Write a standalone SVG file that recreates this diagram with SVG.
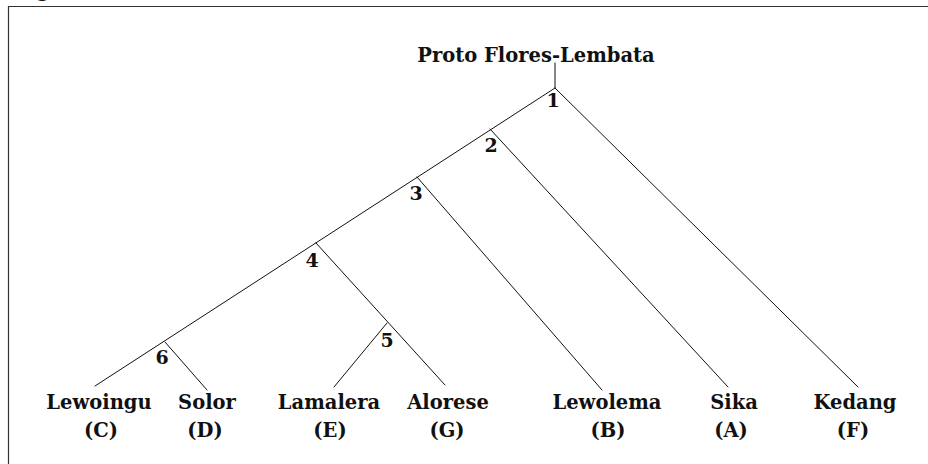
<svg xmlns="http://www.w3.org/2000/svg" width="928" height="464" viewBox="0 0 928 464">
  <style>
    .frame { fill: none; stroke: #333; stroke-width: 1.2; }
    .edge { fill: none; stroke: #111; stroke-width: 1; stroke-linecap: round; }
    .name { font-family: "DejaVu Serif", "Liberation Serif", serif; font-weight: bold; font-size: 19.5px; fill: #111; text-anchor: middle; }
    .num { font-family: "DejaVu Serif", "Liberation Serif", serif; font-weight: bold; font-size: 19px; fill: #111; text-anchor: middle; }
  </style>
  <rect width="928" height="464" fill="#fff"/>
  <!-- caption glyph running off the top edge -->
  <text x="43" y="-3" class="name" font-weight="normal">g</text>
  <!-- panel border -->
  <path class="frame" d="M8.5,464 V6.5 H928"/>

  <g id="connectors">
    <line class="edge" x1="555" y1="63" x2="555" y2="88"/>
    <line class="edge" x1="555" y1="88" x2="95" y2="386"/>
    <line class="edge" x1="555" y1="88" x2="858" y2="387"/>
    <line class="edge" x1="490" y1="129" x2="728" y2="387"/>
    <line class="edge" x1="417" y1="177" x2="602" y2="390"/>
    <line class="edge" x1="316" y1="243" x2="445" y2="385"/>
    <line class="edge" x1="387" y1="323" x2="334" y2="387"/>
    <line class="edge" x1="165" y1="342" x2="207" y2="390"/>
  </g>

  <g id="root"><text class="name" x="536" y="62">Proto Flores-Lembata</text></g>
  <g id="n1"><text class="num" x="553" y="107">1</text></g>
  <g id="n2"><text class="num" x="491" y="152">2</text></g>
  <g id="n3"><text class="num" x="416" y="200">3</text></g>
  <g id="n4"><text class="num" x="312" y="267">4</text></g>
  <g id="n5"><text class="num" x="387" y="347">5</text></g>
  <g id="n6"><text class="num" x="162" y="364">6</text></g>

  <g id="lewoingu"><text class="name" x="99" y="409">Lewoingu</text><text class="name" x="101" y="437">(C)</text></g>
  <g id="solor"><text class="name" x="207" y="409">Solor</text><text class="name" x="205" y="437">(D)</text></g>
  <g id="lamalera"><text class="name" x="329" y="409">Lamalera</text><text class="name" x="330" y="437">(E)</text></g>
  <g id="alorese"><text class="name" x="448" y="409">Alorese</text><text class="name" x="447" y="437">(G)</text></g>
  <g id="lewolema"><text class="name" x="607" y="409">Lewolema</text><text class="name" x="608" y="437">(B)</text></g>
  <g id="sika"><text class="name" x="734" y="409">Sika</text><text class="name" x="731" y="437">(A)</text></g>
  <g id="kedang"><text class="name" x="855" y="409">Kedang</text><text class="name" x="853" y="437">(F)</text></g>
</svg>
